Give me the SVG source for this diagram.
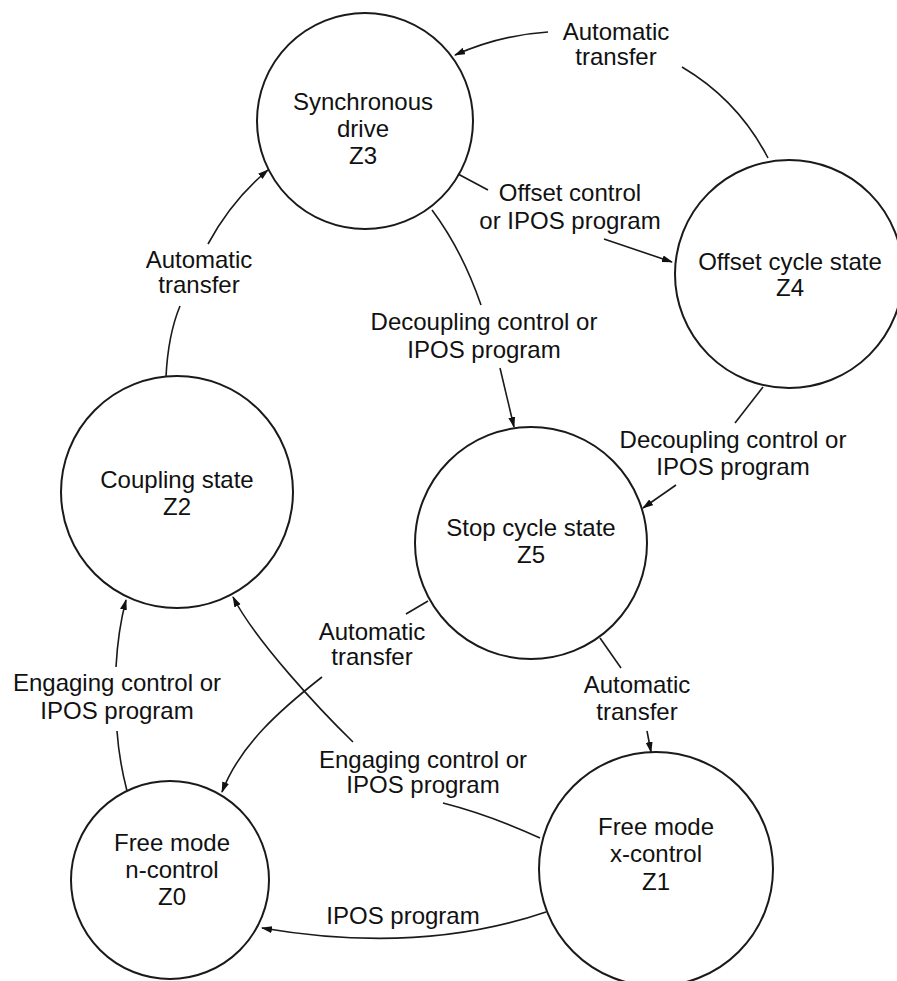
<svg xmlns="http://www.w3.org/2000/svg" width="897" height="981" viewBox="0 0 897 981">
<style>
.node circle{fill:#fff;stroke:#1a1a1a;stroke-width:2}
text{font-family:"Liberation Sans",Arial,sans-serif;font-size:24px;fill:#111;text-anchor:middle}
.conn path{fill:none;stroke:#1a1a1a;stroke-width:1.6}
</style>
<defs>
<marker id="ah" markerWidth="11" markerHeight="8" refX="10" refY="3.5" orient="auto" markerUnits="userSpaceOnUse">
<path d="M0,0 L11,3.5 L0,7 z" fill="#111"/>
</marker>
</defs>
<rect width="897" height="981" fill="#fff"/>
<g id="Z3" class="node"><circle cx="365" cy="121" r="108"/>
<text x="363" y="110">Synchronous</text><text x="363" y="137">drive</text><text x="363" y="164">Z3</text></g>
<g id="Z4" class="node"><circle cx="789" cy="274" r="114"/>
<text x="790" y="270">Offset cycle state</text><text x="790" y="296">Z4</text></g>
<g id="Z2" class="node"><circle cx="177" cy="492" r="116"/>
<text x="177" y="488">Coupling state</text><text x="177" y="515">Z2</text></g>
<g id="Z5" class="node"><circle cx="531" cy="543" r="116"/>
<text x="531" y="536">Stop cycle state</text><text x="531" y="563">Z5</text></g>
<g id="Z0" class="node"><circle cx="170" cy="880" r="99"/>
<text x="172" y="851">Free mode</text><text x="172" y="878">n-control</text><text x="172" y="905">Z0</text></g>
<g id="Z1" class="node"><circle cx="656" cy="869" r="117"/>
<text x="656" y="835">Free mode</text><text x="656" y="862">x-control</text><text x="656" y="890">Z1</text></g>
<g id="connectors" class="conn">
<path d="M768 158 Q738 100 682 67"/>
<path d="M548 32 Q500 35 455 55" marker-end="url(#ah)"/>
<path d="M458 174 L488 190"/>
<path d="M604 239 L672 262" marker-end="url(#ah)"/>
<path d="M432 210 Q462 250 481 305"/>
<path d="M500 368 L514 427" marker-end="url(#ah)"/>
<path d="M763 387 L735 423"/>
<path d="M676 485 L643 508" marker-end="url(#ah)"/>
<path d="M600 638 L621 668"/>
<path d="M647 731 L651 752" marker-end="url(#ah)"/>
<path d="M428 601 L406 614"/>
<path d="M322 677 C280 710 240 745 222 792" marker-end="url(#ah)"/>
<path d="M540 838 Q490 815 443 803"/>
<path d="M353 742 C320 710 255 640 233 597" marker-end="url(#ah)"/>
<path d="M127 791 Q119 760 117 731"/>
<path d="M116 667 Q118 630 126 600" marker-end="url(#ah)"/>
<path d="M166 377 Q168 335 180 306"/>
<path d="M208 244 Q232 200 268 170" marker-end="url(#ah)"/>
<path d="M546 912 Q420 955 262 928" marker-end="url(#ah)"/>
</g>
<g id="labels">
<text x="616" y="40">Automatic</text><text x="616" y="65">transfer</text>
<text x="570" y="201">Offset control</text><text x="570" y="229">or IPOS program</text>
<text x="484" y="330">Decoupling control or</text><text x="484" y="358">IPOS program</text>
<text x="733" y="448">Decoupling control or</text><text x="733" y="475">IPOS program</text>
<text x="637" y="693">Automatic</text><text x="637" y="720">transfer</text>
<text x="372" y="640">Automatic</text><text x="372" y="665">transfer</text>
<text x="423" y="768">Engaging control or</text><text x="423" y="793">IPOS program</text>
<text x="117" y="691">Engaging control or</text><text x="117" y="719">IPOS program</text>
<text x="199" y="268">Automatic</text><text x="199" y="293">transfer</text>
<text x="403" y="924">IPOS program</text>
</g>
</svg>
